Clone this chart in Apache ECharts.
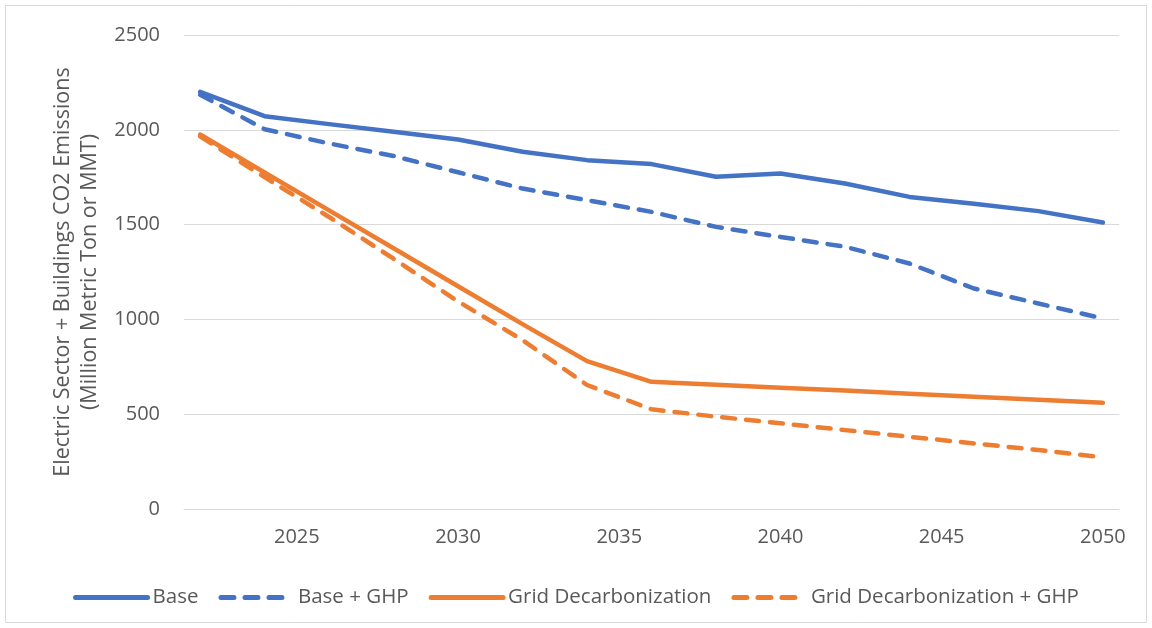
<!DOCTYPE html>
<html>
<head>
<meta charset="utf-8">
<script src="https://cdn.jsdelivr.net/npm/echarts@6/dist/echarts.min.js"></script>
<style>
	html,body{margin:0;padding:0;background:#fff;}
	#chart{width:1152px;height:628px;}
</style>
</head>
<body>
<div id="chart"></div>
<script type="text/javascript">
    // 数据：每两年一个点
    var years = [2022, 2024, 2026, 2028, 2030, 2032, 2034, 2036, 2038, 2040, 2042, 2044, 2046, 2048, 2050];
    var base = [2200, 2072, 2030, 1990, 1949, 1884, 1840, 1819, 1752, 1770, 1717, 1646, 1610, 1571, 1511];
    var baseGhp = [2185, 2003, 1928, 1862, 1776, 1690, 1629, 1567, 1488, 1435, 1383, 1295, 1163, 1084, 1005];
    var grid = [1975, 1775, 1575, 1375, 1175, 975, 780, 671, 655, 640, 625, 608, 592, 576, 560];
    var gridGhp = [1965, 1750, 1540, 1320, 1095, 891, 654, 526, 487, 452, 416, 381, 346, 311, 272];
    var yearLabels = [2025, 2030, 2035, 2040, 2045, 2050];

    function pairs(vals){
        return years.map(function(y, i){ return [y, vals[i]]; });
    }

    var blue = '#4472C4', orange = '#ED7D31';
    var font = 'Open Sans';
    var dash = [13, 11];

    function line(name, vals, color, dashed){
        return {
            name: name,
            type: 'line',
            data: pairs(vals),
            symbol: 'none',
            lineStyle: {color: color, width: 4.5, type: dashed ? dash : 'solid', cap: 'round', join: 'round'},
            itemStyle: {color: color}
        };
    }

    var myChart = echarts.init(document.getElementById('chart'));
    var option = {
        animation: false,
        textStyle: {fontFamily: font},
        graphic: [{
            type: 'rect',
            shape: {x: 5.5, y: 5.5, width: 1141, height: 617},
            style: {fill: 'none', stroke: '#D9D9D9', lineWidth: 1}
        }],
        grid: {left: 184, right: 33, top: 35, bottom: 119},
        legend: {
            left: 'center',
            top: 582,
            itemWidth: 72,
            itemHeight: 14,
            itemGap: 20,
            itemStyle: {opacity: 0},
            lineStyle: {width: 5, cap: 'round'},
            textStyle: {fontFamily: font, fontSize: 20.5, color: '#595959'},
            data: ['Base', 'Base + GHP', 'Grid Decarbonization', 'Grid Decarbonization + GHP']
        },
        xAxis: {
            type: 'value',
            min: 2021.5,
            max: 2050.5,
            axisLine: {show: true, lineStyle: {color: '#D9D9D9', width: 1}},
            axisTick: {show: false},
            splitLine: {show: false},
            axisLabel: {
                customValues: yearLabels,
                formatter: function(v){ return String(v); },
                color: '#595959',
                fontSize: 20,
                fontFamily: font,
                margin: 18
            }
        },
        yAxis: {
            type: 'value',
            min: 0,
            max: 2500,
            interval: 500,
            name: 'Electric Sector + Buildings CO2 Emissions\n(Million Metric Ton or MMT)',
            nameLocation: 'middle',
            nameGap: 81,
            nameTextStyle: {fontFamily: font, fontSize: 21.5, color: '#595959', lineHeight: 27},
            axisLine: {show: false},
            axisTick: {show: false},
            splitLine: {lineStyle: {color: '#D9D9D9', width: 1}},
            axisLabel: {
                formatter: function(v){ return String(v); },
                color: '#595959', fontSize: 20, fontFamily: font, margin: 24
            }
        },
        series: [
            line('Base', base, blue, false),
            line('Base + GHP', baseGhp, blue, true),
            line('Grid Decarbonization', grid, orange, false),
            line('Grid Decarbonization + GHP', gridGhp, orange, true)
        ]
    };
    myChart.setOption(option);
</script>
</body>
</html>
